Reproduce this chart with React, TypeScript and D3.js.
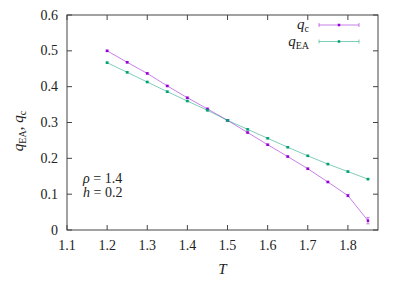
import * as d3 from 'd3';

const temps = [1.2, 1.25, 1.3, 1.35, 1.4, 1.45, 1.5, 1.55, 1.6, 1.65, 1.7, 1.75, 1.8, 1.85];
const qc = [0.5, 0.468, 0.437, 0.402, 0.369, 0.338, 0.306, 0.272, 0.238, 0.205, 0.171, 0.134, 0.096, 0.026];
const qcErr = [0.002, 0.002, 0.002, 0.002, 0.002, 0.002, 0.002, 0.002, 0.002, 0.002, 0.002, 0.002, 0.003, 0.009];
const qea = [0.467, 0.44, 0.413, 0.386, 0.36, 0.334, 0.306, 0.281, 0.256, 0.231, 0.207, 0.184, 0.163, 0.142];
const qeaErr = [0.002, 0.002, 0.002, 0.002, 0.002, 0.002, 0.002, 0.002, 0.002, 0.002, 0.002, 0.002, 0.002, 0.002];
const xTicks = [1.1, 1.2, 1.3, 1.4, 1.5, 1.6, 1.7, 1.8];
const yTicks = [0, 0.1, 0.2, 0.3, 0.4, 0.5, 0.6];

const W = 406;
const H = 282;
const m = { top: 15, right: 28, bottom: 52, left: 67 };
const font = '"Liberation Serif", "DejaVu Serif", serif';

const App = () => {
  const x = d3.scaleLinear().domain([1.1, 1.875]).range([m.left, W - m.right]);
  const y = d3.scaleLinear().domain([0, 0.6]).range([H - m.bottom, m.top]);
  const line = d3.line<number>().x((_, i) => x(temps[i])).y(d => y(d));

  const series = [
    { vals: qc, err: qcErr, color: '#9400d3', label: 'c' },
    { vals: qea, err: qeaErr, color: '#009e73', label: 'EA' },
  ];
  const tk = 5;

  return (
    <svg width={W} height={H} style={{ position: 'absolute', left: 0, top: 0, fontFamily: font }}>
      <rect width={W} height={H} fill="#fff" />
      {series.map(s => (
        <g key={s.label}>
          <path d={line(s.vals) ?? ''} fill="none" stroke={s.color} strokeOpacity={0.5} strokeWidth={1} />
          {s.vals.map((v, i) => (
            <g key={i} stroke={s.color}>
              <line x1={x(temps[i])} x2={x(temps[i])} y1={y(v - s.err[i])} y2={y(v + s.err[i])} strokeOpacity={0.6} />
              <line x1={x(temps[i]) - 2} x2={x(temps[i]) + 2} y1={y(v - s.err[i])} y2={y(v - s.err[i])} strokeOpacity={0.35} />
              <line x1={x(temps[i]) - 2} x2={x(temps[i]) + 2} y1={y(v + s.err[i])} y2={y(v + s.err[i])} strokeOpacity={0.35} />
              <rect x={x(temps[i]) - 1.25} y={y(v) - 1.25} width={2.5} height={2.5} fill={s.color} stroke="none" />
            </g>
          ))}
        </g>
      ))}
      <rect x={m.left} y={m.top} width={W - m.left - m.right} height={H - m.top - m.bottom} fill="none" stroke="#444" strokeWidth={1} />
      {xTicks.map(t => (
        <g key={t} stroke="#444">
          <line x1={x(t)} x2={x(t)} y1={y(0)} y2={y(0) - tk} />
          <line x1={x(t)} x2={x(t)} y1={y(0.6)} y2={y(0.6) + tk} />
          <text x={x(t)} y={y(0) + 20} textAnchor="middle" fontSize={14} fill="#222" stroke="none">{t.toFixed(1)}</text>
        </g>
      ))}
      {yTicks.map(t => (
        <g key={t} stroke="#444">
          <line x1={m.left} x2={m.left + tk} y1={y(t)} y2={y(t)} />
          <line x1={W - m.right} x2={W - m.right - tk} y1={y(t)} y2={y(t)} />
          <text x={m.left - 9} y={y(t) + 4.5} textAnchor="end" fontSize={14} fill="#222" stroke="none">{t === 0 ? '0' : t.toFixed(1)}</text>
        </g>
      ))}
      <text x={(x(1.1) + x(1.875)) / 2} y={274} textAnchor="middle" fontSize={15} fontStyle="italic" fill="#222">T</text>
      <text transform="translate(23,131) rotate(-90)" textAnchor="middle" fontSize={15} fill="#222">
        <tspan fontStyle="italic">q</tspan><tspan fontSize={10} dy={3}>EA</tspan><tspan dy={-3}>, </tspan>
        <tspan fontStyle="italic">q</tspan><tspan fontSize={10} dy={3}>c</tspan>
      </text>
      {series.map((s, i) => {
        const ly = 25 + i * 16.5;
        return (
          <g key={s.label}>
            <text x={309} y={ly + 4} textAnchor="end" fontSize={15} fill="#222">
              <tspan fontStyle="italic">q</tspan><tspan fontSize={10} dy={3}>{s.label}</tspan>
            </text>
            <g stroke={s.color} strokeOpacity={0.5}>
              <line x1={319} x2={359} y1={ly} y2={ly} />
              <line x1={319} x2={319} y1={ly - 2} y2={ly + 2} />
              <line x1={359} x2={359} y1={ly - 2} y2={ly + 2} />
            </g>
            <rect x={337.75} y={ly - 1.25} width={2.5} height={2.5} fill={s.color} />
          </g>
        );
      })}
      <text x={83} y={183} fontSize={14} fill="#222"><tspan fontStyle="italic">ρ</tspan><tspan> = 1.4</tspan></text>
      <text x={83} y={197} fontSize={14} fill="#222"><tspan fontStyle="italic">h</tspan><tspan> = 0.2</tspan></text>
    </svg>
  );
};

export default App;
